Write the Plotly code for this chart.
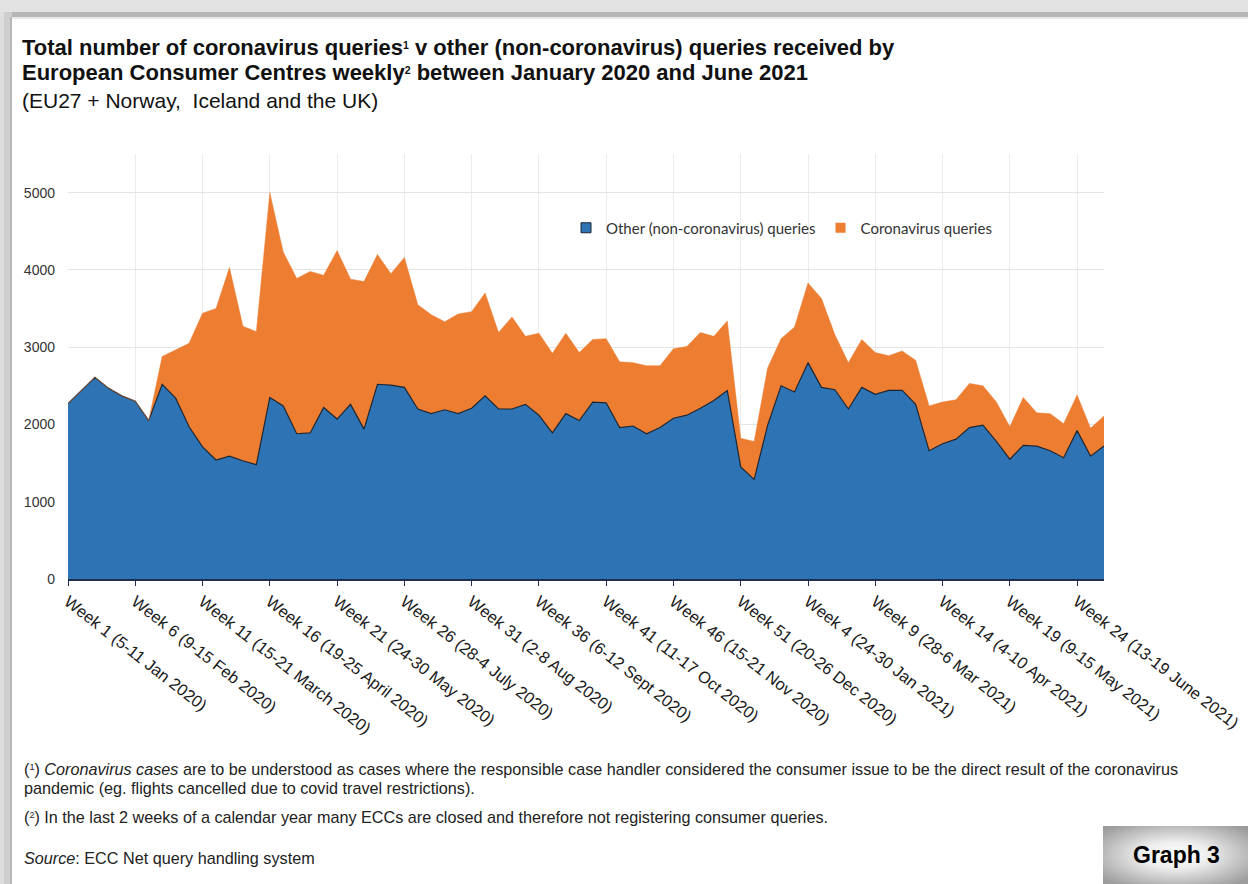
import base64
import plotly.graph_objects as go

# ---------------- data ----------------
weeks = [f"2020-W{w:02d}" for w in range(1, 53)] + [f"2021-W{w:02d}" for w in range(1, 27)]

other_queries = [2270, 2440, 2610, 2470, 2370, 2300, 2050, 2520, 2340, 1970,
                 1710, 1540, 1590, 1530, 1480, 2350, 2240, 1880, 1890, 2220,
                 2070, 2260, 1940, 2520, 2510, 2480, 2200, 2140, 2190, 2140,
                 2210, 2370, 2200, 2200, 2260, 2120, 1890, 2140, 2050, 2290,
                 2280, 1960, 1980, 1880, 1960, 2080, 2120, 2210, 2310, 2440,
                 1450, 1290, 1990, 2500, 2420, 2800, 2480, 2450, 2200, 2480,
                 2390, 2440, 2440, 2260, 1660, 1750, 1810, 1960, 1990, 1780,
                 1550, 1730, 1720, 1660, 1570, 1920, 1590, 1720]

corona_queries = [0, 0, 0, 0, 0, 0, 0, 360, 620, 1080,
                  1730, 1960, 2440, 1740, 1720, 2650, 1990, 2010, 2090, 1710,
                  2180, 1620, 1910, 1680, 1440, 1680, 1350, 1280, 1140, 1290,
                  1250, 1330, 990, 1190, 880, 1060, 1030, 1040, 880, 810,
                  830, 850, 820, 880, 800, 900, 890, 980, 830, 900,
                  370, 490, 740, 610, 840, 1030, 1150, 710, 600, 620,
                  540, 450, 510, 570, 580, 540, 510, 570, 510, 510,
                  420, 620, 430, 480, 440, 460, 360, 390]

tick_labels = ["Week 1 (5-11 Jan 2020)", "Week 6 (9-15 Feb 2020)",
               "Week 11 (15-21 March 2020)", "Week 16 (19-25 April 2020)",
               "Week 21 (24-30 May 2020)", "Week 26 (28-4 July 2020)",
               "Week 31 (2-8 Aug 2020)", "Week 36 (6-12 Sept 2020)",
               "Week 41 (11-17 Oct 2020)", "Week 46 (15-21 Nov 2020)",
               "Week 51 (20-26 Dec 2020)", "Week 4 (24-30 Jan 2021)",
               "Week 9 (28-6 Mar 2021)", "Week 14 (4-10 Apr 2021)",
               "Week 19 (9-15 May 2021)", "Week 24 (13-19 June 2021)"]

# ---------------- layout helpers ----------------
W, H = 1248, 884
L, R, T, B = 68, 1104, 154, 579


def px(x):
    return (x - L) / (R - L)


def py(y):
    return (B - y) / (B - T)


BLUE = "#2E74B5"
ORANGE = "#ED7D31"
FONT = "Liberation Sans, Arial, sans-serif"

fig = go.Figure()

fig.add_trace(go.Scatter(
    x=weeks, y=other_queries, stackgroup="one", mode="lines",
    line=dict(color="#1b2633", width=1.2), fillcolor=BLUE,
    name="Other (non-coronavirus) queries", showlegend=False))
fig.add_trace(go.Scatter(
    x=weeks, y=corona_queries, stackgroup="one", mode="lines",
    line=dict(color=ORANGE, width=0.5), fillcolor=ORANGE,
    name="Coronavirus queries", showlegend=False))

# legend entries (small squares as in the original)
fig.add_trace(go.Scatter(
    x=[None], y=[None], mode="markers", name="Other (non-coronavirus) queries",
    marker=dict(symbol="square", size=10, color=BLUE, line=dict(color="#1b2633", width=1))))
fig.add_trace(go.Scatter(
    x=[None], y=[None], mode="markers", name="Coronavirus queries",
    marker=dict(symbol="square", size=10, color=ORANGE, line=dict(width=0))))

fig.update_xaxes(
    type="category", range=[0, len(weeks) - 1], automargin=False,
    tickvals=weeks[::5], ticktext=tick_labels, tickangle=38,
    tickfont=dict(family=FONT, size=16.5, color="#1a1a1a"),
    showline=True, linecolor="#1f2f4f", linewidth=1.5,
    ticks="outside", ticklen=5, tickcolor="#1f2f4f", tickwidth=1,
    showgrid=True, gridcolor="#ececec", gridwidth=1, zeroline=False)
fig.update_yaxes(
    range=[0, 5500], tickvals=[0, 1000, 2000, 3000, 4000, 5000], automargin=False,
    tickfont=dict(family=FONT, size=14, color="#333333"),
    showgrid=True, gridcolor="#e4e4e4", gridwidth=1, zeroline=False,
    showline=False, ticks="", ticklabelstandoff=12)

annotations = []


def note(text, x, y, size, bold=False, family=FONT, color="#111111", xanchor="left"):
    if bold:
        text = f"<b>{text}</b>"
    annotations.append(dict(
        text=text, x=px(x), y=py(y), xref="paper", yref="paper",
        xanchor=xanchor, yanchor="middle", showarrow=False,
        font=dict(family=family, size=size, color=color)))


SUP = "<span style='font-size:15px'><sup>{}</sup></span>"
SUPF = "<span style='font-size:13px'><sup>{}</sup></span>"

note("Total number of coronavirus queries" + SUP.format(1) + " v other (non-coronavirus) queries received by",
     20, 47, 22, bold=True)
note("European Consumer Centres weekly" + SUP.format(2) + " between January 2020 and June 2021",
     20, 73, 22, bold=True)
note("(EU27 + Norway,  Iceland and the UK)", 20, 101, 21)

FN = 16.2
note("(" + SUPF.format(1) + ") <i>Coronavirus cases</i> are to be understood as cases where the responsible case handler "
     "considered the consumer issue to be the direct result of the coronavirus",
     22, 769, FN, color="#222222")
note("pandemic (eg. flights cancelled due to covid travel restrictions).", 22, 788, FN, color="#222222")
note("(" + SUPF.format(2) + ") In the last 2 weeks of a calendar year many ECCs are closed and therefore not "
     "registering consumer queries.", 22, 817, FN, color="#222222")
note("<i>Source</i>: ECC Net query handling system", 22, 858, FN, color="#222222")
note("Graph 3", 1176, 855, 23, bold=True, color="#000000", xanchor="center")

shapes = []


def rect(x0, y0, x1, y1, color):
    shapes.append(dict(type="rect", xref="paper", yref="paper",
                       x0=px(x0), x1=px(x1), y0=py(y1), y1=py(y0),
                       fillcolor=color, line=dict(width=0), layer="below"))


# page frame / shadow
rect(0, 0, W, 12, "#e3e3e3")
rect(0, 12, W, 17, "#b6b6b6")
rect(0, 17, W, 19, "#e8e8e8")
rect(0, 12, 12, H, "#cfcfcf")
rect(0, 12, 4, H, "#dedede")
rect(10, 17, 12, H, "#b8b8b8")

svg = ("<svg xmlns='http://www.w3.org/2000/svg' width='145' height='58'>"
       "<defs><radialGradient id='g' cx='50%' cy='50%' r='65%'>"
       "<stop offset='0' stop-color='#ffffff'/><stop offset='0.35' stop-color='#eeeeee'/>"
       "<stop offset='1' stop-color='#9c9c9c'/></radialGradient></defs>"
       "<rect width='145' height='58' fill='url(#g)'/></svg>")
img_src = "data:image/svg+xml;base64," + base64.b64encode(svg.encode()).decode()

fig.update_layout(
    width=W, height=H,
    margin=dict(l=L, r=W - R, t=T, b=H - B, autoexpand=False),
    paper_bgcolor="white", plot_bgcolor="white",
    showlegend=True,
    legend=dict(orientation="h", x=px(566), y=py(228), xanchor="left", yanchor="middle",
                traceorder="normal",
                bgcolor="rgba(0,0,0,0)", font=dict(family="Lato, Open Sans, sans-serif", size=15, color="#333333"),
                itemwidth=30, tracegroupgap=0),
    annotations=annotations,
    shapes=shapes,
    images=[dict(source=img_src, xref="paper", yref="paper", x=px(1103), y=py(826),
                 sizex=145 / (R - L), sizey=58 / (B - T), sizing="stretch",
                 xanchor="left", yanchor="top", layer="below")],
)

fig.write_html("out.html")
